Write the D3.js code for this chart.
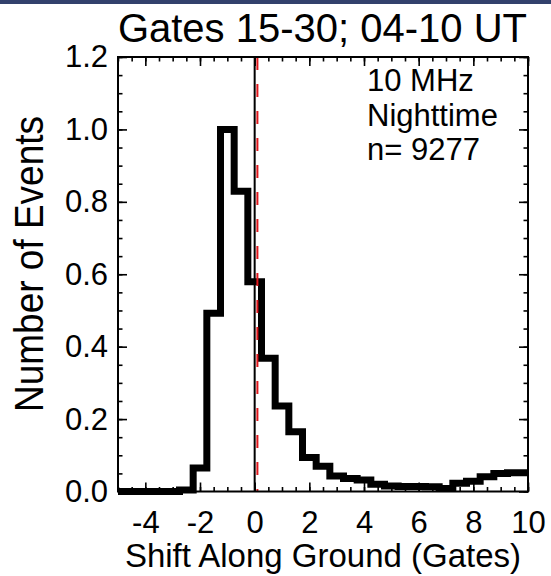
<!DOCTYPE html>
<html>
<head>
<meta charset="utf-8">
<script src="https://cdn.jsdelivr.net/npm/d3@7"></script>
<style>
  body { margin: 0; background: #fff; }
  svg text { font-family: "Liberation Sans", Arial, Helvetica, sans-serif; fill: #000; }
</style>
</head>
<body>
<div id="chart"></div>
<script>
// histogram points (bin centres, gates) and normalised counts
const shiftGates = [-5, -4.5, -4, -3.5, -3, -2.5, -2, -1.5, -1, -0.5, 0, 0.5, 1, 1.5, 2,
    2.5, 3, 3.5, 4, 4.5, 5, 5.5, 6, 6.5, 7, 7.5, 8, 8.5, 9, 9.5, 10];
const eventFraction = [0, 0, 0, 0, 0, 0.004, 0.065, 0.492, 1.0, 0.829, 0.579, 0.368, 0.236, 0.165, 0.094,
    0.070, 0.043, 0.036, 0.032, 0.020, 0.015, 0.014, 0.014, 0.013, 0.008, 0.023, 0.028, 0.041, 0.050, 0.052, 0.052];
const xTickLabels = [-4, -2, 0, 2, 4, 6, 8, 10];
const yTickLabels = [0, 0.2, 0.4, 0.6, 0.8, 1.0, 1.2];
const meanShift = 0.1;   // red dashed marker
const infoLines = ["10 MHz", "Nighttime", "n= 9277"];

function drawChart(id){
    const W = 551, H = 576;
    const box = {l: 118, r: 528, t: 57, b: 491.5};

    const svg = d3.select(id).append("svg")
        .attr("width", W).attr("height", H);

    // navy strip across the top
    svg.append("rect").attr("x", 0).attr("y", 0).attr("width", W).attr("height", 4)
        .attr("fill", "#32416c");

    const x = d3.scaleLinear().domain([-5, 10]).range([box.l, box.r]);
    const y = d3.scaleLinear().domain([0, 1.2]).range([box.b, box.t]);

    // inward ticks on all four sides, minor then major
    function ticks(axis, tr, vals, size){
        const g = svg.append("g").attr("transform", tr)
            .call(axis.tickValues(vals).tickSize(-size).tickFormat(""));
        g.select(".domain").remove();
        g.selectAll(".tick line").attr("stroke", "#000").attr("stroke-width", 1.6);
        return g;
    }
    const xMinor = x.ticks(30), yMinor = y.ticks(24);
    ticks(d3.axisBottom(x), "translate(0," + box.b + ")", xMinor, 4.5);
    ticks(d3.axisTop(x), "translate(0," + box.t + ")", xMinor, 4.5);
    ticks(d3.axisLeft(y), "translate(" + box.l + ",0)", yMinor, 4.5);
    ticks(d3.axisRight(y), "translate(" + box.r + ",0)", yMinor, 4.5);
    ticks(d3.axisBottom(x), "translate(0," + box.b + ")", xTickLabels, 9);
    ticks(d3.axisTop(x), "translate(0," + box.t + ")", xTickLabels, 9);
    ticks(d3.axisLeft(y), "translate(" + box.l + ",0)", yTickLabels, 9);
    ticks(d3.axisRight(y), "translate(" + box.r + ",0)", yTickLabels, 9);

    // tick labels (plain hyphen for negatives)
    const xAx = svg.append("g").attr("transform", "translate(0," + box.b + ")")
        .call(d3.axisBottom(x).tickValues(xTickLabels).tickSize(0).tickPadding(19)
            .tickFormat(function(d){ return String(d); }));
    xAx.select(".domain").remove();
    xAx.selectAll("text").attr("font-size", 31).attr("font-family", null);

    const yAx = svg.append("g").attr("transform", "translate(" + box.l + ",0)")
        .call(d3.axisLeft(y).tickValues(yTickLabels).tickSize(0).tickPadding(10)
            .tickFormat(d3.format(".1f")));
    yAx.select(".domain").remove();
    yAx.selectAll("text").attr("font-size", 31).attr("font-family", null);

    // histogram outline, steps half way between points
    const line = d3.line().curve(d3.curveStep)
        .x(function(d){ return x(d[0]); })
        .y(function(d){ return y(d[1]); });
    svg.append("path")
        .datum(shiftGates.map(function(g, i){ return [g, eventFraction[i]]; }))
        .attr("d", line)
        .attr("fill", "none").attr("stroke", "#000")
        .attr("stroke-width", 7).attr("stroke-linejoin", "miter");

    // zero line and mean shift marker
    svg.append("line").attr("x1", x(0)).attr("x2", x(0))
        .attr("y1", box.t).attr("y2", box.b)
        .attr("stroke", "#000").attr("stroke-width", 2);
    svg.append("line").attr("x1", x(meanShift)).attr("x2", x(meanShift))
        .attr("y1", box.t).attr("y2", box.b)
        .attr("stroke", "#e0161b").attr("stroke-width", 2)
        .attr("stroke-dasharray", "13,14");

    // frame
    svg.append("rect").attr("x", box.l).attr("y", box.t)
        .attr("width", box.r - box.l).attr("height", box.b - box.t)
        .attr("fill", "none").attr("stroke", "#000").attr("stroke-width", 2);

    // titles
    svg.append("text").attr("x", 527).attr("y", 42)
        .attr("text-anchor", "end").attr("font-size", 40)
        .text("Gates 15-30; 04-10 UT");
    svg.append("text").attr("x", (box.l + box.r) / 2).attr("y", 567)
        .attr("text-anchor", "middle").attr("font-size", 33)
        .text("Shift Along Ground (Gates)");
    svg.append("text").attr("transform", "translate(43,264) rotate(-90) scale(1,1.12)")
        .attr("text-anchor", "middle").attr("font-size", 37)
        .text("Number of Events");

    // info block
    svg.append("g").selectAll("text").data(infoLines).enter().append("text")
        .attr("x", 367).attr("y", function(d, i){ return 91 + i * 34.5; })
        .attr("font-size", 31)
        .text(function(d){ return d; });
}

drawChart("#chart");
</script>
</body>
</html>
